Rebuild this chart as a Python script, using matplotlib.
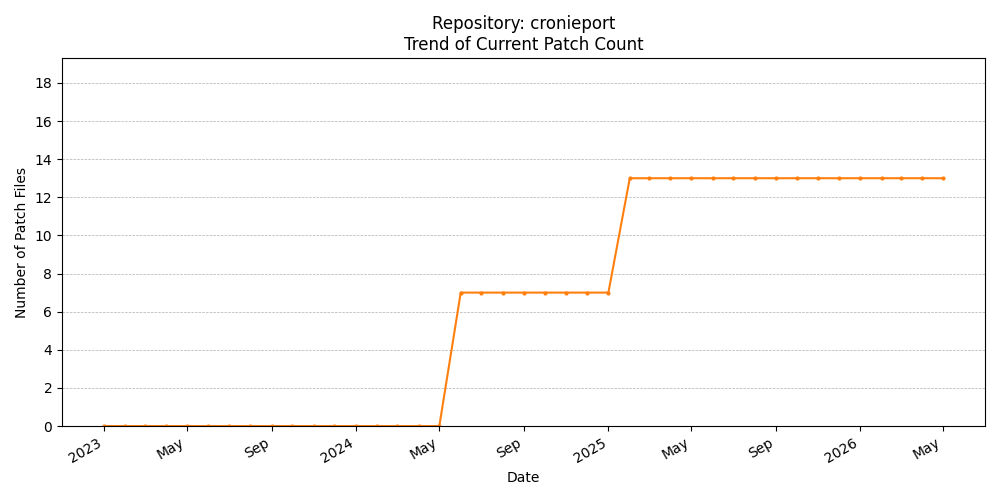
import pandas as pd
import numpy as np
import matplotlib
matplotlib.use('Agg')
import matplotlib.pyplot as plt
import matplotlib.dates as mdates

# monthly snapshots of patch count
dates = pd.date_range('2023-01-01', '2026-05-01', freq='MS')
counts = [0] * 17 + [7] * 8 + [13] * 16

fig, ax = plt.subplots(figsize=(10, 5), dpi=100)
ax.plot(dates, counts, marker='o', markersize=2, color='tab:orange', linewidth=1.5)

loc = mdates.AutoDateLocator()
ax.xaxis.set_major_locator(loc)
ax.xaxis.set_major_formatter(mdates.ConciseDateFormatter(loc, offset_formats=['', '', '', '', '', '']))
ax.set_ylim(0, 19.3)
ax.set_yticks(range(0, 19, 2))
ax.grid(axis='y', linestyle='--', linewidth=0.5, color='#b0b0b0')
ax.set_title('Repository: cronieport\nTrend of Current Patch Count')
ax.set_xlabel('Date')
ax.set_ylabel('Number of Patch Files')
fig.autofmt_xdate()
fig.tight_layout()
fig.savefig('out.png')
